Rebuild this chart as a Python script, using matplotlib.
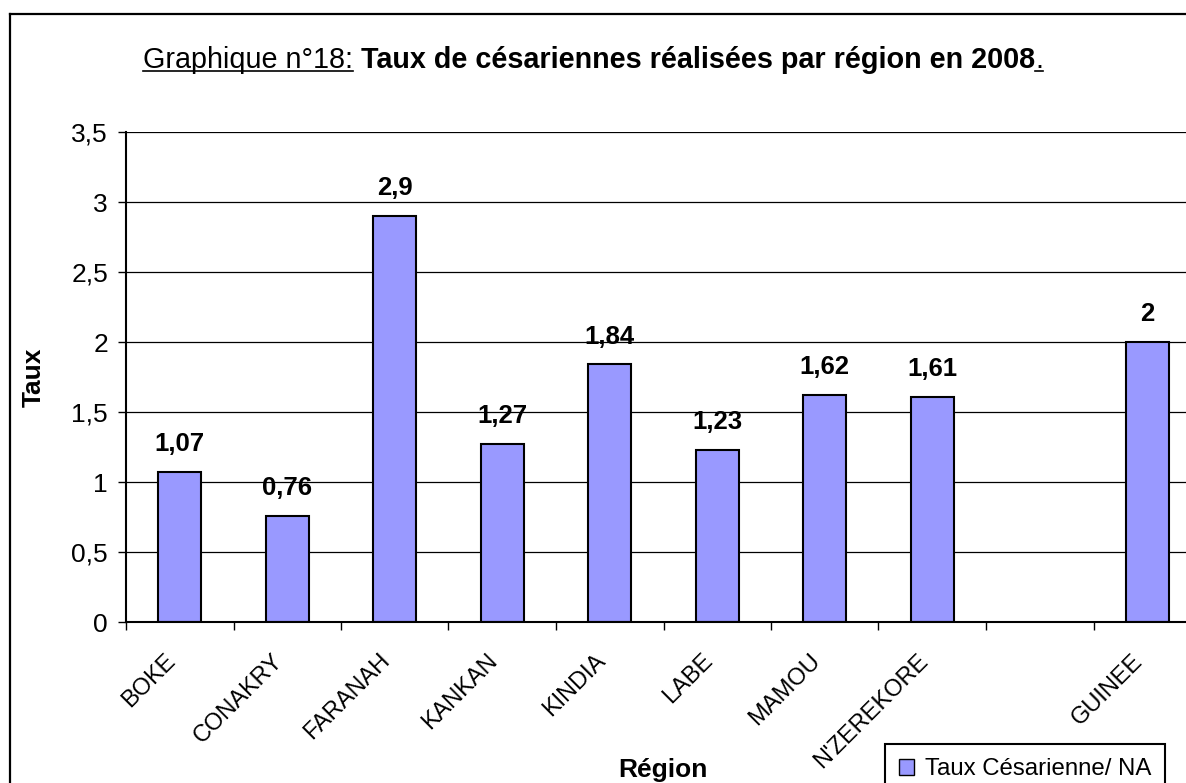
"""Taux de césariennes réalisées par région en 2008 (Guinée), style Excel."""

import numpy as np
import matplotlib.pyplot as plt
from matplotlib.lines import Line2D
from matplotlib.patches import Patch
from matplotlib.ticker import FuncFormatter, FixedLocator

plt.rcParams["font.family"] = ["Liberation Sans", "DejaVu Sans"]

# données (la catégorie vide sépare les régions du total national)
regions = ["BOKE", "CONAKRY", "FARANAH", "KANKAN", "KINDIA",
           "LABE", "MAMOU", "N'ZEREKORE", "", "GUINEE"]
taux = [1.07, 0.76, 2.9, 1.27, 1.84, 1.23, 1.62, 1.61, None, 2.0]
y_ticks = [0, 0.5, 1, 1.5, 2, 2.5, 3, 3.5]

BAR_COLOR = "#9999FF"
W, H = 1186, 783


def fr(v):
    return f"{v:g}".replace(".", ",")


fig = plt.figure(figsize=(W / 100, H / 100), dpi=100)
ax = fig.add_axes([126 / W, 1 - 622 / H, 1075 / W, 490 / H])

xs = [i for i, v in enumerate(taux) if v is not None]
vals = [v for v in taux if v is not None]
ax.bar(xs, vals, width=0.4, color=BAR_COLOR, edgecolor="black",
       linewidth=1.5, zorder=3)

for x, v in zip(xs, vals):
    ax.annotate(fr(v), (x, v), xytext=(0, 15), textcoords="offset points",
                ha="center", va="baseline", fontsize=18.5, fontweight="bold",
                zorder=4)

ax.set_xlim(-0.5, len(regions) - 0.5)
ax.set_ylim(0, 3.5)

# axe y
ax.set_yticks(y_ticks)
ax.yaxis.set_major_formatter(FuncFormatter(lambda v, p: fr(v)))
ax.tick_params(axis="y", direction="out", length=6, width=1,
               labelsize=19, pad=7)
ax.grid(axis="y", color="black", linewidth=0.9, zorder=1)

# axe x : graduations entre les catégories
ax.set_xticks(range(len(regions)))
ax.set_xticklabels(regions, rotation=45, ha="right", fontsize=17)
ax.xaxis.set_minor_locator(FixedLocator(np.arange(-0.5, len(regions), 1.0)))
ax.tick_params(axis="x", which="major", length=0, pad=20)
ax.tick_params(axis="x", which="minor", direction="out", length=6, width=1)

for side in ["top", "right"]:
    ax.spines[side].set_visible(False)
for side in ["left", "bottom"]:
    ax.spines[side].set_linewidth(1.5)
    ax.spines[side].set_zorder(5)

fig.text(34 / W, 1 - 377 / H, "Taux", rotation=90, ha="center", va="center",
         fontsize=19, fontweight="bold")
fig.text(663 / W, 1 - 777 / H, "Région", ha="center", va="baseline",
         fontsize=19, fontweight="bold")

# légende
leg = fig.legend(handles=[Patch(facecolor=BAR_COLOR, edgecolor="black",
                                linewidth=1, label="Taux Césarienne/ NA")],
                 loc="upper left", bbox_to_anchor=(885 / W, 1 - 744 / H),
                 fontsize=17.3, handlelength=0.6, handleheight=0.6,
                 handletextpad=0.45, borderpad=0.6, fancybox=False,
                 framealpha=1, borderaxespad=0)
leg.get_frame().set_edgecolor("black")
leg.get_frame().set_linewidth(1.5)

# titre en trois morceaux (souligné / gras / souligné)
parts = [("Graphique n°18:", "normal", True),
         (" Taux de césariennes réalisées par région en 2008", "bold", False),
         (".", "normal", True)]
fs_title = 20.7
base_y = 68
renderer = fig.canvas.get_renderer()
texts = []
for s, wgt, _ in parts:
    t = fig.text(0, 1 - base_y / H, s, fontsize=fs_title, fontweight=wgt,
                 va="baseline", ha="left")
    texts.append(t)
widths = [t.get_window_extent(renderer).width for t in texts]
x = (W - sum(widths)) / 2
for t, w, (s, wgt, under) in zip(texts, widths, parts):
    t.set_x(x / W)
    if under:
        yu = 1 - (base_y + 3) / H
        fig.add_artist(Line2D([x / W, (x + w) / W], [yu, yu],
                              color="black", linewidth=1.2))
    x += w

# cadre du graphique
fig.add_artist(Line2D([10 / W, 1], [1 - 14 / H, 1 - 14 / H],
                      color="black", linewidth=1.6))
fig.add_artist(Line2D([10 / W, 10 / W], [0, 1 - 14 / H],
                      color="black", linewidth=1.6))

fig.savefig("out.png", dpi=100)
